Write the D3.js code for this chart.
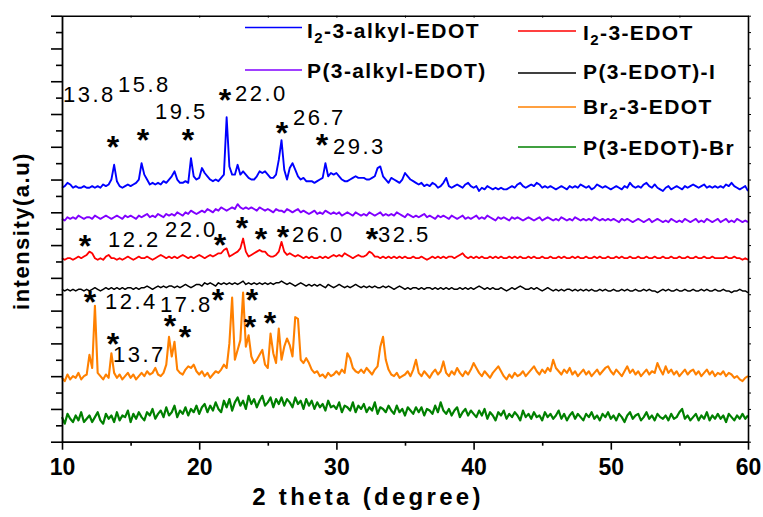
<!DOCTYPE html>
<html>
<head>
<meta charset="utf-8">
<script src="https://cdn.jsdelivr.net/npm/d3@7"></script>
<style>
  html, body { margin: 0; padding: 0; background: #fff; }
  svg { display: block; font-family: "Liberation Sans", Arial, sans-serif; }
</style>
</head>
<body>
<svg id="chart" width="763" height="517"></svg>
<script>
// ---- DATA ----
// 2θ grid: 10.0 .. 60.0 degrees, step 0.2
const thetaStart = 10, thetaStep = 0.2, thetaCount = 251;
const twoTheta = d3.range(thetaCount).map(i => +(thetaStart + i * thetaStep).toFixed(1));

// intensities (a.u., vertically offset stack), one value per 2θ grid point
const i2AlkylEdot = [
155,156,158,157,155,156,155,155,156,155,
155,156,155,156,155,157,156,157,160,169,
159,156,155,156,157,156,157,158,160,170,
163,160,157,158,157,158,157,159,158,160,
162,165,160,158,158,159,158,173,162,160,
161,167,164,162,160,159,160,159,161,163,
198,168,163,163,169,163,165,163,161,160,
160,162,165,164,165,163,161,161,163,172,
184,166,160,167,170,166,162,160,161,159,
159,159,158,159,160,161,170,162,164,163,
164,162,160,159,159,160,161,162,161,161,
161,160,160,161,162,167,168,162,160,158,
161,160,159,158,160,164,162,160,159,158,
157,158,156,157,156,158,157,155,156,158,
161,156,155,156,157,156,155,157,158,156,
155,156,153,155,154,156,155,154,155,154,
155,154,154,155,156,155,157,158,156,155,
156,157,156,158,157,155,156,155,156,155,
154,155,156,155,154,156,155,156,155,157,
156,155,156,154,155,157,156,155,156,155,
154,155,156,155,154,156,155,158,156,155,
156,155,157,158,156,155,157,155,154,153,
155,156,154,155,156,155,154,156,155,156,
157,156,155,156,157,155,156,155,156,155,
156,155,157,156,158,156,155,154,155,156,
153];

const pAlkylEdot = [
136,135,137,136,137,136,138,137,136,137,
137,136,138,137,136,137,138,137,136,137,
138,137,136,138,137,138,137,136,138,137,
138,139,137,138,137,139,138,137,139,138,
139,138,140,139,138,140,139,141,140,139,
140,141,140,142,141,140,142,141,143,142,
141,142,143,142,145,143,142,143,142,143,
142,141,143,142,141,142,141,140,142,141,
141,140,142,141,140,141,142,140,141,140,
139,140,141,139,140,139,141,140,139,140,
139,140,138,139,140,139,138,140,139,138,
139,138,140,139,138,139,140,138,139,138,
139,138,140,139,138,137,139,138,137,138,
137,138,139,137,138,137,136,138,137,138,
137,136,138,137,136,137,138,136,137,136,
137,138,136,137,136,138,137,136,135,137,
136,137,136,135,137,136,137,136,135,136,
137,136,135,136,137,135,136,137,136,135,
136,135,137,136,135,136,135,137,136,135,
136,135,136,135,137,136,135,136,135,136,
135,136,135,134,136,135,136,135,134,135,
136,135,134,135,136,134,135,136,135,134,
135,134,136,135,134,135,134,136,135,134,
135,136,134,135,134,136,135,134,135,136,
134,135,136,134,135,134,136,135,134,135,
134];

const i2Edot = [
112,111,112,112,111,112,113,112,113,114,
116,115,112,111,112,111,113,114,112,112,
111,112,111,112,113,112,111,112,113,112,
112,113,112,111,112,113,114,113,112,113,
112,113,112,113,114,113,112,113,112,113,
114,113,112,113,114,113,114,115,115,117,
118,113,114,115,116,118,124,116,113,114,
115,116,117,116,116,114,113,113,114,116,
122,116,114,115,114,113,114,113,112,113,
112,113,112,112,113,112,113,112,113,114,
113,114,113,115,114,113,112,113,114,113,
113,114,116,115,113,113,112,113,112,113,
112,113,112,113,112,113,112,112,113,112,
112,113,112,111,112,113,112,113,112,113,
112,113,113,112,113,114,115,113,112,113,
112,113,112,113,112,112,113,112,113,112,
113,112,112,113,112,113,112,113,112,112,
113,112,113,112,112,113,112,112,113,112,
112,113,112,113,112,112,113,112,113,112,
112,113,112,112,113,112,113,112,112,113,
112,112,113,112,113,112,112,113,112,112,
113,112,112,113,112,112,113,112,112,113,
112,112,113,112,112,113,112,112,113,112,
112,113,112,112,113,112,112,113,112,112,
112,112,113,112,112,113,112,112,111,112,
111];

const pEdotI = [
93,92,93,92,93,92,93,93,92,93,
92,93,94,93,92,93,94,93,94,93,
94,93,94,93,94,94,93,94,93,94,
94,95,94,93,94,95,94,95,94,95,
95,94,95,94,95,96,95,94,95,96,
96,95,97,96,97,96,95,97,96,97,
96,97,96,97,96,97,98,96,97,96,
97,96,97,96,97,96,97,96,97,97,
98,97,96,97,96,95,96,97,96,95,
96,95,96,95,96,95,94,96,95,94,
95,96,95,94,95,94,95,96,95,94,
95,94,95,94,95,94,94,95,94,95,
94,93,94,95,94,93,94,93,94,94,
93,94,93,94,94,93,94,93,94,93,
94,93,94,93,93,94,93,94,93,94,
93,94,95,94,93,94,93,94,93,93,
94,93,92,93,94,93,94,95,94,93,
93,94,93,94,93,92,93,94,93,92,
93,92,93,92,93,93,92,93,92,93,
92,93,92,93,92,92,93,92,93,92,
92,93,92,92,93,92,93,92,92,93,
92,92,93,92,93,92,92,91,92,93,
92,93,92,92,93,92,92,93,92,92,
93,92,92,93,92,93,92,92,93,92,
92,93,92,92,91,92,92,93,92,92,
91];

const br2Edot = [
39,37,41,38,40,39,42,38,40,41,
53,45,83,42,40,38,41,39,54,42,
39,41,38,40,42,39,41,38,40,42,
40,43,41,42,45,41,40,42,47,64,
52,61,44,42,41,44,46,45,47,43,
41,43,40,42,39,41,43,42,44,47,
45,60,88,50,56,62,91,58,65,52,
48,50,53,56,47,45,66,54,48,69,
50,58,63,59,52,76,75,50,48,51,
48,44,42,43,40,41,39,42,40,41,
43,41,44,42,54,51,45,43,42,44,
42,45,43,41,44,46,58,64,50,44,
41,40,42,39,40,41,43,40,44,50,
42,40,43,41,39,42,44,41,43,49,
42,40,43,41,45,42,40,43,41,44,
48,45,42,40,43,41,39,42,44,46,
43,40,38,41,39,42,40,41,43,40,
42,44,46,43,41,44,42,45,43,50,
45,43,41,44,42,45,41,43,40,42,
44,41,43,40,42,44,41,43,45,46,
43,41,44,42,40,43,46,42,44,41,
43,40,42,44,41,43,42,48,44,41,
46,42,44,41,43,40,42,44,41,43,
44,41,43,40,42,44,41,43,40,42,
41,43,40,42,41,39,40,38,37,39,
40];

const pEdotBr = [
15,11,17,14,12,16,13,18,12,14,
16,12,15,18,13,11,17,14,16,12,
18,13,16,15,19,12,17,14,18,15,
13,18,16,20,14,17,19,15,21,16,
18,22,15,19,17,21,16,20,18,22,
17,21,23,18,22,19,24,20,18,25,
21,26,19,24,27,22,25,20,28,23,
26,21,25,28,22,24,27,21,26,23,
27,22,26,24,21,27,23,25,20,26,
22,25,20,24,21,23,19,25,21,22,
20,24,18,22,21,19,24,18,22,20,
23,18,21,19,24,17,21,20,18,22,
19,17,22,18,20,16,21,19,17,21,
18,21,16,20,19,17,22,18,24,19,
17,20,16,19,21,15,18,20,16,19,
17,15,19,16,20,14,18,16,13,18,
16,19,14,17,15,18,16,13,19,15,
17,14,18,15,16,13,18,15,17,14,
16,19,14,17,13,16,18,14,17,15,
13,17,15,18,14,16,13,17,15,18,
14,16,13,17,15,12,16,18,14,16,
17,13,15,18,14,16,13,17,15,14,
16,13,17,14,15,18,20,14,16,13,
15,17,13,16,14,18,13,16,14,17,
14,16,12,17,15,13,16,14,17,14,
16];

const seriesNames = ["I2-3-alkyl-EDOT", "P(3-alkyl-EDOT)", "I2-3-EDOT", "P(3-EDOT)-I", "Br2-3-EDOT", "P(3-EDOT)-Br"];
const seriesValues = [i2AlkylEdot, pAlkylEdot, i2Edot, pEdotI, br2Edot, pEdotBr];
const seriesColors = ["#0000ff", "#8000ff", "#ff0000", "#000000", "#ff8000", "#008000"];
// legend label pieces: [text, isSubscript]
const legendParts = [
  [["I", false], ["2", true], ["-3-alkyl-EDOT", false]],
  [["P(3-alkyl-EDOT)", false]],
  [["I", false], ["2", true], ["-3-EDOT", false]],
  [["P(3-EDOT)-I", false]],
  [["Br", false], ["2", true], ["-3-EDOT", false]],
  [["P(3-EDOT)-Br", false]]
];

// x-axis ticks
const xMajorTicks = [10, 20, 30, 40, 50, 60];
const xMinorTicks = [15, 25, 35, 45, 55];

// peak annotations (text, 2θ, intensity) — label text anchored at its left/baseline
const peakLabels = [
  ["13.8", 10.07, 207.3], ["15.8", 14.08, 213.4], ["19.5", 16.78, 197.0],
  ["22.0", 22.61, 208.0], ["26.7", 26.84, 193.3], ["29.3", 29.75, 175.6],
  ["12.2", 13.35, 118.8], ["22.0", 17.51, 124.9], ["26.0", 26.76, 121.9], ["32.5", 33.03, 121.9],
  ["12.4", 13.13, 81.0], ["13.7", 13.72, 48.5], ["17.8", 17.14, 79.4]
];
// asterisk markers (2θ, intensity of marker centre)
const starMarks = [
  [13.72, 184.1], [15.90, 188.4], [19.18, 188.4], [21.88, 212.8], [26.03, 192.6], [28.95, 185.4],
  [11.68, 123.7], [21.52, 124.3], [23.12, 134.7], [24.50, 128.0], [26.11, 129.2], [32.59, 128.0],
  [12.04, 89.5], [13.72, 64.0], [17.87, 75.0], [18.96, 68.2], [21.37, 90.7], [23.85, 90.7], [23.70, 74.3], [25.16, 76.7]
];

// ---- LAYOUT ----
const plot = { left: 62, right: 748, top: 15.7, bottom: 441.7 };
const svg = d3.select("#chart");

const x = d3.scaleLinear().domain([10, 60]).range([plot.left, plot.right]);
const y = d3.scaleLinear().domain([0, 260]).range([plot.bottom, plot.top]);

// ---- SERIES ----
const line = d3.line().x(d => x(d[0])).y(d => y(d[1]));
const widths = [1.9, 1.9, 1.8, 1.5, 2.1, 2.2];
seriesValues.forEach((vals, k) => {
  svg.append("path")
    .datum(twoTheta.map((t, i) => [t, vals[i]]))
    .attr("fill", "none")
    .attr("stroke", seriesColors[k])
    .attr("stroke-width", widths[k])
    .attr("stroke-linejoin", "round")
    .attr("d", line);
});

// ---- AXES ----
const axisStyle = g => {
  g.select(".domain").attr("stroke", "#000").attr("stroke-width", 1.8);
  g.selectAll(".tick line").attr("stroke", "#000").attr("stroke-width", 1.6);
};
// bottom
const gxMajor = svg.append("g").attr("transform", `translate(0,${plot.bottom})`)
  .call(d3.axisBottom(x).tickValues(xMajorTicks).tickSize(8).tickSizeOuter(0).tickFormat(d3.format("d")));
axisStyle(gxMajor);
gxMajor.selectAll(".tick text")
  .attr("dy", null).attr("y", 33)
  .attr("font-size", 23).attr("font-weight", "bold")
  .attr("font-family", '"Liberation Sans", Arial, sans-serif').attr("fill", "#000");
const gxMinor = svg.append("g").attr("transform", `translate(0,${plot.bottom})`)
  .call(d3.axisBottom(x).tickValues(xMinorTicks).tickSize(4).tickSizeOuter(0).tickFormat(""));
axisStyle(gxMinor);
gxMinor.select(".domain").remove();
// top (thin, small inward ticks)
const gxTop = svg.append("g").attr("transform", `translate(0,${plot.top})`)
  .call(d3.axisBottom(x).tickValues(xMajorTicks.concat(xMinorTicks)).tickSize(2).tickSizeOuter(0).tickFormat(""));
gxTop.select(".domain").attr("stroke", "#000").attr("stroke-width", 1.5);
gxTop.selectAll(".tick line").attr("stroke", "#000").attr("stroke-width", 1);

// left
const yMajor = d3.range(0, 261, 20), yMinor = d3.range(10, 260, 20);
const gyMajor = svg.append("g").attr("transform", `translate(${plot.left},0)`)
  .call(d3.axisLeft(y).tickValues(yMajor).tickSize(11).tickSizeOuter(0).tickFormat(""));
axisStyle(gyMajor);
const gyMinor = svg.append("g").attr("transform", `translate(${plot.left},0)`)
  .call(d3.axisLeft(y).tickValues(yMinor).tickSize(6).tickSizeOuter(0).tickFormat(""));
axisStyle(gyMinor);
gyMinor.select(".domain").remove();
// right
const gyRight = svg.append("g").attr("transform", `translate(${plot.right},0)`)
  .call(d3.axisRight(y).tickValues(d3.range(0, 261, 10)).tickSize(3).tickSizeOuter(0).tickFormat(""));
gyRight.select(".domain").attr("stroke", "#000").attr("stroke-width", 1.6);
gyRight.selectAll(".tick line").attr("stroke", "#000").attr("stroke-width", 1);

// ---- AXIS TITLES ----
svg.append("text")
  .attr("x", 368).attr("y", 505)
  .attr("text-anchor", "middle")
  .attr("font-size", 24).attr("font-weight", "bold")
  .attr("letter-spacing", "3.3px")
  .text("2 theta (degree)");
svg.append("text")
  .attr("transform", "translate(29,231) rotate(-90)")
  .attr("text-anchor", "middle")
  .attr("font-size", 22).attr("font-weight", "bold")
  .attr("letter-spacing", "1.5px")
  .text("intensity(a.u)");

// ---- LEGEND ----
const legendPos = [
  { x1: 245, x2: 302, ly: 27.5, tx: 307, ty: 37.5 },
  { x1: 245, x2: 302, ly: 70,   tx: 307, ty: 77.5 },
  { x1: 518, x2: 576, ly: 31,   tx: 583, ty: 40 },
  { x1: 518, x2: 576, ly: 73,   tx: 583, ty: 79 },
  { x1: 518, x2: 576, ly: 107,  tx: 583, ty: 114 },
  { x1: 518, x2: 576, ly: 147,  tx: 583, ty: 155 }
];
legendParts.forEach((parts, k) => {
  const p = legendPos[k];
  svg.append("line").attr("x1", p.x1).attr("x2", p.x2).attr("y1", p.ly).attr("y2", p.ly)
    .attr("stroke", seriesColors[k]).attr("stroke-width", 1.6);
  const t = svg.append("text").attr("x", p.tx).attr("y", p.ty)
    .attr("font-size", 21).attr("font-weight", "bold").attr("letter-spacing", "1.4px");
  parts.forEach(([txt, sub]) => {
    if (sub) {
      t.append("tspan").attr("font-size", 15).attr("dy", 5).text(txt);
    } else {
      const ts = t.append("tspan").text(txt);
      if (t.selectAll("tspan").size() > 1) ts.attr("dy", -5);
    }
  });
});

// ---- ANNOTATIONS ----
svg.append("g").selectAll("text").data(peakLabels).join("text")
  .attr("x", d => x(d[1])).attr("y", d => y(d[2]))
  .attr("font-size", 22).attr("letter-spacing", "2.5px")
  .text(d => d[0]);
const starSize = 32;
svg.append("g").selectAll("text").data(starMarks).join("text")
  .attr("x", d => x(d[0])).attr("y", d => y(d[1]) + 0.56 * starSize)
  .attr("text-anchor", "middle")
  .attr("font-size", starSize).attr("font-weight", "bold")
  .text("*");
</script>
</body>
</html>
